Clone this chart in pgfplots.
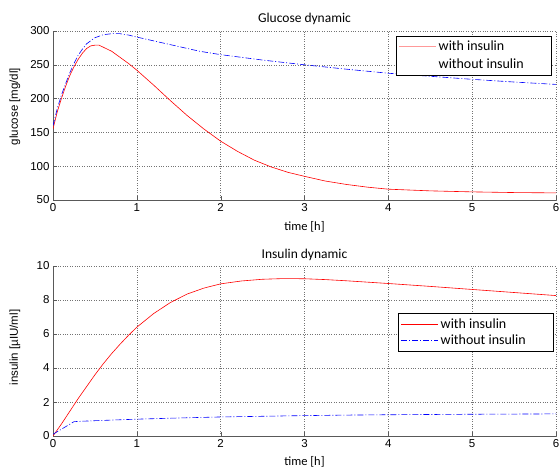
\documentclass[border=0pt]{standalone}
\usepackage{pgfplots}
\pgfplotsset{compat=1.18}
\usepackage{fontspec}
\setmainfont{Liberation Sans}
\newfontfamily\calib{Carlito}

\pgfplotsset{
  dyn/.style={
    scale only axis, width=503pt,
    xmin=0, xmax=6, xtick={0,...,6},
    axis x line*=bottom, axis y line*=left,
    axis line style={-, draw=black!65},
    tick style={draw=black!65},
    major tick length=4pt,
    grid=major,
    grid style={dotted, draw=black!55},
    tick label style={font=\fontsize{11.5}{13}\selectfont},
    /pgf/number format/assume math mode=true,
    ylabel style={font=\fontsize{11.5}{13}\selectfont, anchor=center},
    xlabel style={font=\calib\fontsize{12.5}{14}\selectfont, anchor=center},
    title style={font=\calib\fontsize{13.5}{15}\selectfont, anchor=center, yshift=-6pt},
    legend style={font=\calib\fontsize{14}{15}\selectfont, draw=black, fill=white,
      anchor=north east, inner xsep=3pt, inner ysep=3pt, row sep=1pt,
      /tikz/every even column/.append style={column sep=4pt}},
    legend cell align=left,
    legend image code/.code={\draw[#1] (0pt,0pt) -- (37pt,0pt);},
  }
}

\begin{document}
\begin{tikzpicture}[x=1pt,y=1pt]
\path[use as bounding box] (0,0) rectangle (559,470);

% glucose
\begin{axis}[dyn, at={(53pt,270pt)}, anchor=south west, height=169pt,
  ymin=50, ymax=300, ytick={50,100,...,300},
  title={Glucose dynamic}, title style={at={(axis description cs:0.5,1.07)}},
  xlabel={time [h]}, xlabel style={at={(axis description cs:0.5,-0.158)}},
  ylabel={glucose [mg/dl]}, ylabel style={at={(axis description cs:-0.0755,0.553)}},
  legend style={at={(axis description cs:0.99,0.97)}, row sep=2.5pt}]
\addlegendimage{red!40, line width=0.8pt}
\addlegendimage{white}
\addplot[red, line width=0.6pt, forget plot] coordinates {
(0,155)(0.05,180)(0.1,200)(0.15,218)(0.2,234)(0.25,247)(0.3,258)(0.35,267)
(0.4,274)(0.45,278)(0.5,279)(0.55,279)(0.6,276)(0.7,270)(0.8,261)(0.9,252)
(1,242)(1.2,220)(1.4,197)(1.6,175)(1.8,155)(2,137)(2.2,122)(2.4,109)(2.6,99)
(2.8,91)(3,85)(3.25,78)(3.5,73)(3.75,69)(4,66)(4.5,63.5)(5,62)(5.5,61)(6,60.5)
};
\addplot[blue, line width=0.6pt, dash pattern=on 6pt off 2pt on 1pt off 2pt, forget plot] coordinates {
(0,160)(0.05,185)(0.1,205)(0.15,222)(0.2,238)(0.25,252)(0.3,264)(0.35,273)
(0.4,281)(0.5,290)(0.6,294.5)(0.7,296)(0.8,296)(0.9,294)(1,291)(1.25,284)
(1.5,277)(1.75,270)(2,265)(2.5,257)(3,250)(3.5,243.5)(4,237.5)(4.5,233)
(5,228.5)(5.5,224.5)(6,221)
};
\legend{with insulin, without insulin\rule{22pt}{0pt}}
\end{axis}

% insulin
\begin{axis}[dyn, at={(53pt,34pt)}, anchor=south west, height=170pt,
  ymin=0, ymax=10, ytick={0,2,...,10},
  title={Insulin dynamic}, title style={at={(axis description cs:0.5,1.065)}},
  xlabel={time [h]}, xlabel style={at={(axis description cs:0.5,-0.153)}},
  ylabel={insulin [\textmu IU/ml]}, ylabel style={at={(axis description cs:-0.0755,0.52)}},
  legend style={at={(axis description cs:0.994,0.723)}}]
\addplot[red, line width=0.6pt] coordinates {
(0,0)(0.1,0.7)(0.2,1.45)(0.3,2.2)(0.4,2.9)(0.5,3.6)(0.6,4.25)(0.7,4.85)
(0.8,5.4)(0.9,5.92)(1,6.4)(1.2,7.2)(1.4,7.85)(1.6,8.35)(1.8,8.7)(2,8.95)
(2.25,9.12)(2.5,9.22)(2.75,9.26)(3,9.25)(3.25,9.2)(3.5,9.13)(3.75,9.05)
(4,8.97)(4.5,8.8)(5,8.62)(5.5,8.44)(6,8.26)
};
\addplot[blue, line width=0.6pt, dash pattern=on 6pt off 2pt on 1pt off 2pt] coordinates {
(0,0.1)(0.25,0.84)(0.3,0.86)(0.5,0.9)(1,0.99)(1.5,1.06)(2,1.12)(2.5,1.16)
(3,1.2)(3.5,1.23)(4,1.25)(5,1.28)(6,1.3)
};
\legend{with insulin, without insulin\rule{22pt}{0pt}}
\end{axis}
\end{tikzpicture}
\end{document}
